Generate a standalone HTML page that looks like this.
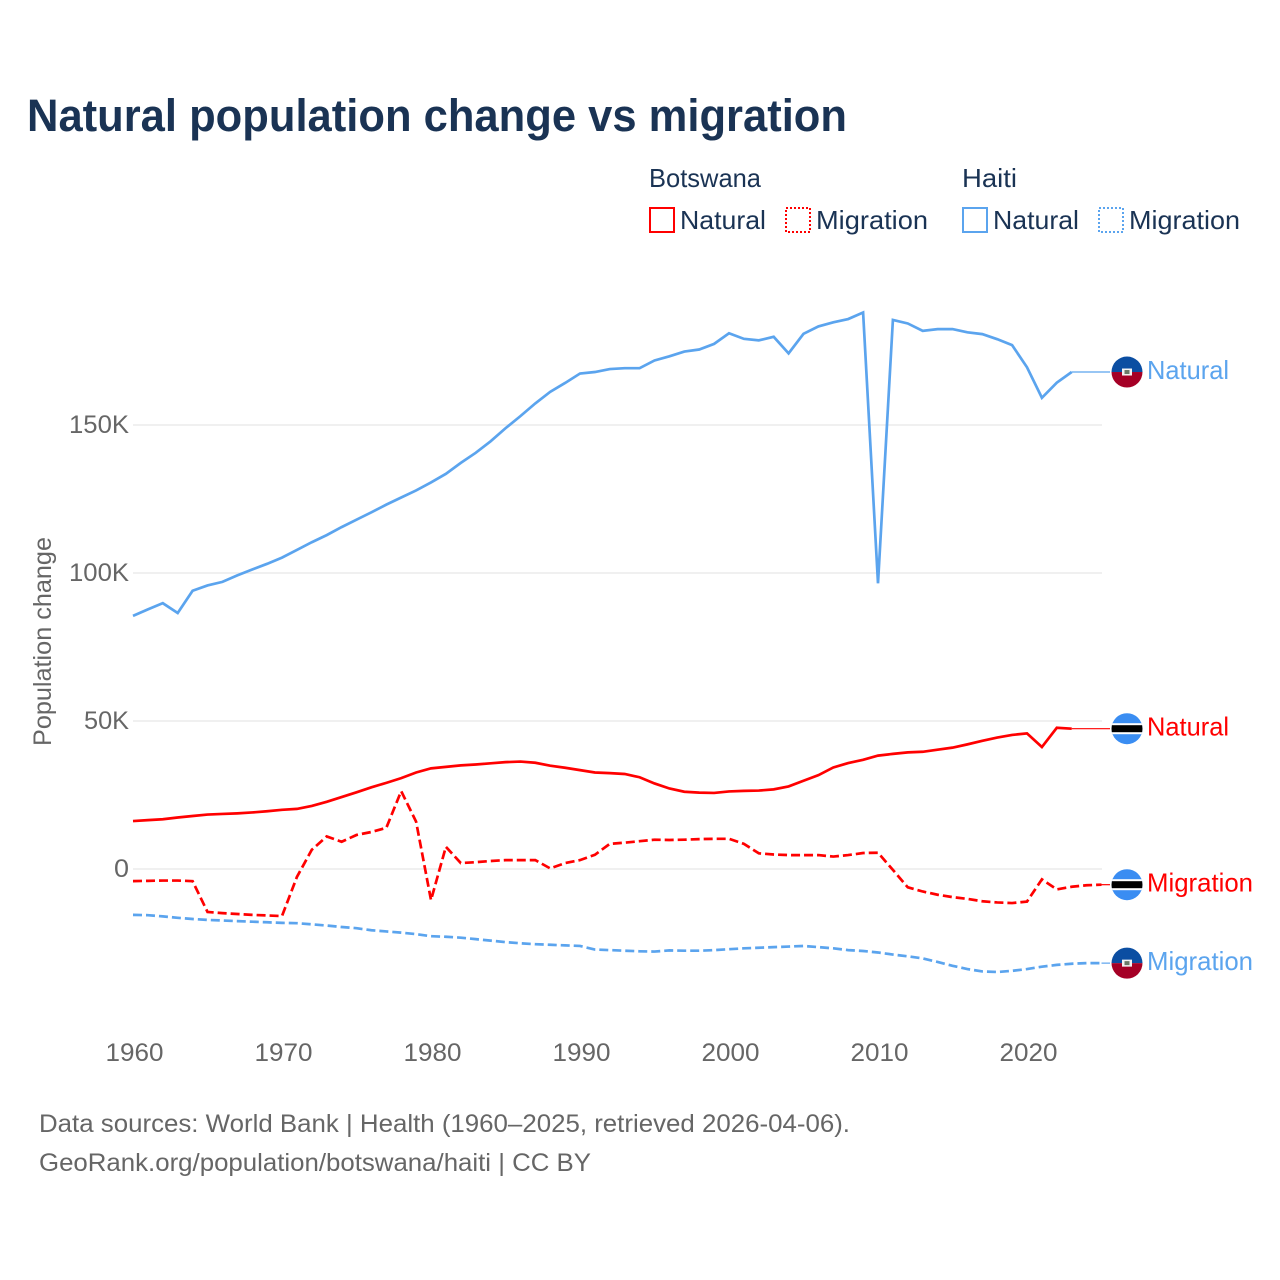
<!DOCTYPE html>
<html lang="en">
<head>
<meta charset="utf-8">
<title>Natural population change vs migration</title>
<style>
html,body{margin:0;padding:0;background:#fff;width:1280px;height:1280px;overflow:hidden}
svg{display:block}
text{font-family:"Liberation Sans",sans-serif}
</style>
</head>
<body>
<svg id="chart" xmlns="http://www.w3.org/2000/svg" width="1280" height="1280" viewBox="0 0 1280 1280">
  <rect x="0" y="0" width="1280" height="1280" fill="#ffffff"/>
  <text x="27" y="131" font-size="45" font-weight="700" fill="#1a3354" textLength="820" lengthAdjust="spacingAndGlyphs">Natural population change vs migration</text>

  <g font-size="26" fill="#1a3354">
    <text x="649" y="187" textLength="112" lengthAdjust="spacingAndGlyphs">Botswana</text>
    <text x="962" y="187" textLength="55" lengthAdjust="spacingAndGlyphs">Haiti</text>
    <g>
      <rect x="650" y="208" width="24" height="24" fill="none" stroke="#ff0000" stroke-width="2"/>
      <text x="680" y="229" textLength="86" lengthAdjust="spacingAndGlyphs">Natural</text>
    </g>
    <g>
      <rect x="786" y="208" width="24" height="24" fill="none" stroke="#ff0000" stroke-width="2" stroke-dasharray="2 2"/>
      <text x="816" y="229" textLength="112" lengthAdjust="spacingAndGlyphs">Migration</text>
    </g>
    <g>
      <rect x="963" y="208" width="24" height="24" fill="none" stroke="#5ba4ee" stroke-width="2"/>
      <text x="993" y="229" textLength="86" lengthAdjust="spacingAndGlyphs">Natural</text>
    </g>
    <g>
      <rect x="1099" y="208" width="24" height="24" fill="none" stroke="#5ba4ee" stroke-width="2" stroke-dasharray="2 2"/>
      <text x="1129" y="229" textLength="111" lengthAdjust="spacingAndGlyphs">Migration</text>
    </g>
  </g>

  <g id="grid"></g>
  <g id="yticks"></g>
  <g id="xticks"></g>
  <text transform="translate(51,746) rotate(-90)" x="0" y="0" font-size="25" fill="#666666" textLength="209" lengthAdjust="spacingAndGlyphs">Population change</text>
  <g id="series"></g>
  <g id="endlabels"></g>

  <defs>
    <clipPath id="flagclip"><circle cx="0" cy="0" r="15.500"/></clipPath>
    <g id="flag-haiti">
      <g clip-path="url(#flagclip)">
        <rect x="-16" y="-16" width="32" height="16" fill="#0b4ea2"/>
        <rect x="-16" y="0" width="32" height="16" fill="#a50026"/>
        <rect x="-5" y="-3.500" width="10" height="7" fill="#f4f4f4"/>
        <rect x="-2.500" y="-2" width="5" height="4" fill="#6b7a68"/>
      </g>
    </g>
    <g id="flag-botswana">
      <g clip-path="url(#flagclip)">
        <rect x="-16" y="-16" width="32" height="32" fill="#3a8df2"/>
        <rect x="-16" y="-5.500" width="32" height="11" fill="#ffffff"/>
        <rect x="-16" y="-3.500" width="32" height="7" fill="#000000"/>
      </g>
    </g>
  </defs>

  <g font-size="25" fill="#666666">
    <text x="39" y="1132" textLength="811" lengthAdjust="spacingAndGlyphs">Data sources: World Bank | Health (1960–2025, retrieved 2026-04-06).</text>
    <text x="39" y="1171" textLength="552" lengthAdjust="spacingAndGlyphs">GeoRank.org/population/botswana/haiti | CC BY</text>
  </g>
</svg>

<script>
var firstYear = 1960;
var xTickYears = [1960, 1970, 1980, 1990, 2000, 2010, 2020];
var yTickValues = [0, 50, 100, 150];
var yTickLabels = ['0', '50K', '100K', '150K'];

var haitiNatural = [85.5,87.7,89.8,86.5,94,95.8,97,99.2,101.2,103.1,105.2,107.8,110.4,112.8,115.5,118,120.5,123.1,125.5,127.9,130.6,133.5,137.2,140.6,144.5,148.9,153,157.3,161.2,164.2,167.4,167.9,168.9,169.2,169.2,171.8,173.2,174.8,175.5,177.4,181,179.1,178.6,179.8,174.2,180.8,183.3,184.7,185.8,188,96.5,185.5,184.3,181.8,182.4,182.4,181.3,180.7,179,177,169.5,159.2,164.3,167.9];
var haitiMigration = [-15.5,-15.6,-16,-16.5,-16.9,-17.2,-17.4,-17.6,-17.8,-18,-18.2,-18.3,-18.7,-19.1,-19.6,-20,-20.7,-21.1,-21.5,-22,-22.7,-22.9,-23.2,-23.7,-24.2,-24.7,-25.1,-25.4,-25.6,-25.8,-26,-27.2,-27.4,-27.6,-27.8,-27.9,-27.5,-27.6,-27.6,-27.4,-27.1,-26.8,-26.6,-26.4,-26.2,-26,-26.4,-26.8,-27.4,-27.7,-28.2,-28.9,-29.5,-30.2,-31.4,-32.7,-33.8,-34.6,-34.8,-34.4,-33.8,-33,-32.4,-32,-31.8,-31.8];
var botswanaNatural = [16.2,16.5,16.8,17.4,17.9,18.4,18.6,18.8,19.1,19.5,20,20.3,21.3,22.7,24.3,25.9,27.6,29.1,30.7,32.6,34,34.5,35,35.3,35.7,36.1,36.3,35.9,34.9,34.2,33.4,32.6,32.4,32.1,31,28.9,27.2,26.1,25.8,25.7,26.2,26.4,26.5,26.9,27.9,29.8,31.7,34.3,35.8,36.9,38.3,38.9,39.4,39.6,40.3,41,42.1,43.3,44.4,45.3,45.8,41.2,47.7,47.4];
var botswanaMigration = [-4.1,-4,-3.9,-3.9,-4.1,-14.5,-14.9,-15.2,-15.5,-15.7,-15.9,-2.7,6.5,11,9.2,11.5,12.5,13.9,26.3,16,-10.5,7.5,2,2.3,2.7,3,3,3,0.2,2,3,4.8,8.5,8.9,9.4,9.9,9.8,9.9,10.1,10.2,10.2,8.5,5.3,4.9,4.7,4.7,4.7,4.2,4.7,5.4,5.5,-0.3,-6.2,-7.6,-8.7,-9.5,-10.1,-10.9,-11.3,-11.5,-11,-3.5,-6.9,-6,-5.5,-5.3];

var SVGNS = 'http://www.w3.org/2000/svg';
function xScale(year) { return 133 + (year - 1960) * 14.9; }
function yScale(v) { return 869 - v * 2.96; }
function make(tag, attrs, parent) {
  var el = document.createElementNS(SVGNS, tag);
  for (var k in attrs) { el.setAttribute(k, attrs[k]); }
  parent.appendChild(el);
  return el;
}
var grid = document.getElementById('grid');
var yticks = document.getElementById('yticks');
var xticks = document.getElementById('xticks');
var seriesGroup = document.getElementById('series');
var endLabels = document.getElementById('endlabels');

yTickValues.forEach(function (v, i) {
  var line = make('line', {x1: 133, x2: 1102, y1: yScale(v), y2: yScale(v), stroke: '#ececec', 'stroke-width': 1.6}, grid);
  
  
  var t = make('text', {x: 129, y: yScale(v) + 8, 'text-anchor': 'end', 'font-size': 25, fill: '#666666', textLength: yTickLabels[i].length * 15, lengthAdjust: 'spacingAndGlyphs'}, yticks);
  t.textContent = yTickLabels[i];
  
  
});

xTickYears.forEach(function (yr) {
  var t = make('text', {x: xScale(yr) + 1.5, y: 1061, 'text-anchor': 'middle', 'font-size': 25, fill: '#666666', textLength: 58, lengthAdjust: 'spacingAndGlyphs'}, xticks);
  t.textContent = String(yr);
  
  
});

function drawSeries(values, color, dash, name, flag, label, labelWidth) {
  var pts = values.map(function (v, i) { return xScale(firstYear + i).toFixed(2) + ',' + yScale(v).toFixed(2); }).join(' ');
  var attrs = {points: pts, fill: 'none', stroke: color, 'stroke-width': 2.7, 'stroke-linejoin': 'miter'};
  if (dash) { attrs['stroke-dasharray'] = dash; }
  var line = make('polyline', attrs, seriesGroup);
  
  

  var lastX = xScale(firstYear + values.length - 1);
  var lastY = yScale(values[values.length - 1]);
  var conn = make('line', {x1: lastX, x2: 1110, y1: lastY, y2: lastY, stroke: color, 'stroke-width': 1.2}, endLabels);
  
  

  var useEl = make('use', {href: '#' + flag, transform: 'translate(1127,' + lastY.toFixed(2) + ')'}, endLabels);
  
  

  var t = make('text', {x: 1147, y: lastY + 7, 'font-size': 26, fill: color, textLength: labelWidth, lengthAdjust: 'spacingAndGlyphs'}, endLabels);
  t.textContent = label;
  
  
}

drawSeries(haitiMigration, '#5ba4ee', '9 4', 'haiti-migration', 'flag-haiti', 'Migration', 106);
drawSeries(botswanaMigration, '#ff0000', '9 4', 'botswana-migration', 'flag-botswana', 'Migration', 106);
drawSeries(botswanaNatural, '#ff0000', '', 'botswana-natural', 'flag-botswana', 'Natural', 82);
drawSeries(haitiNatural, '#5ba4ee', '', 'haiti-natural', 'flag-haiti', 'Natural', 82);
</script>
</body>
</html>
